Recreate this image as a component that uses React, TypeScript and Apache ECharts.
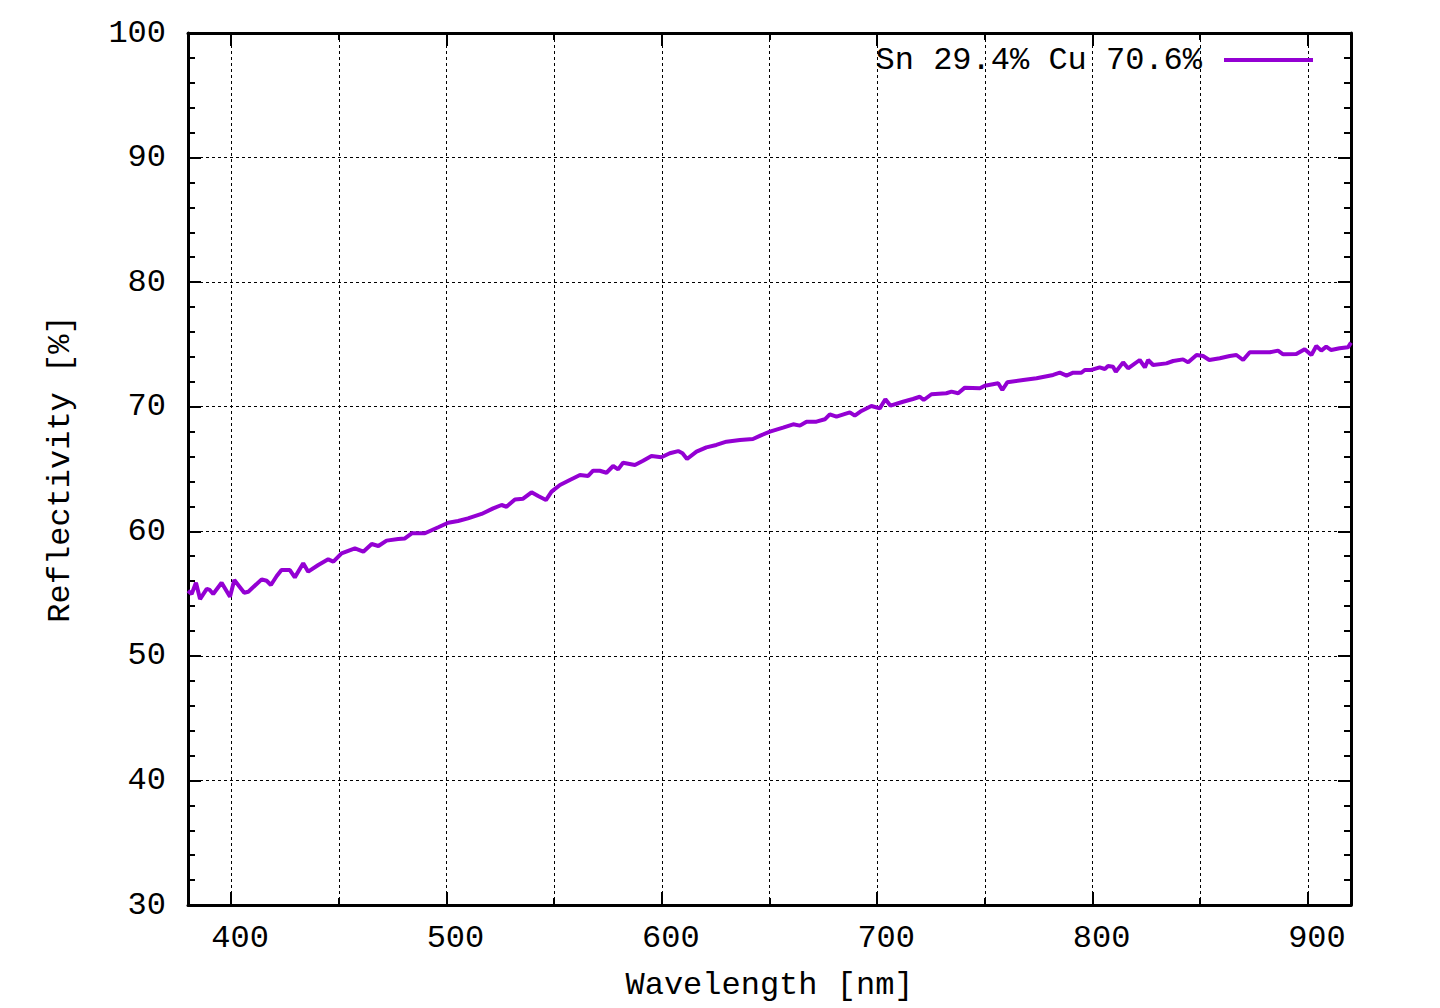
import React, { useEffect, useRef } from "react";
import * as echarts from "echarts";

const wavelength = [
  380.0, 381.7, 383.7, 385.6, 388.7, 390.1, 391.7, 395.6, 399.5, 401.5, 406.1, 408.0, 414.2, 416.5, 418.5,
  421.2, 423.4, 427.3, 429.6, 433.5, 435.8, 440.5, 445.1, 447.5, 451.3, 457.5, 461.4, 465.3, 468.4, 472.2,
  477.6, 480.7, 483.9, 490.0, 496.2, 500.8, 505.4, 510.0, 516.3, 521.7, 525.6, 527.9, 531.8, 535.6, 539.5,
  542.6, 546.2, 548.8, 552.7, 557.3, 562.0, 565.8, 568.1, 571.2, 574.3, 577.4, 579.7, 582.0, 587.5, 591.3,
  595.2, 599.8, 603.7, 607.6, 609.6, 611.7, 616.1, 620.7, 625.3, 630.0, 636.3, 642.3, 646.0, 650.2, 656.3,
  661.0, 664.1, 667.2, 671.8, 675.7, 678.0, 681.1, 687.3, 689.6, 692.7, 697.3, 701.2, 703.8, 706.2, 712.0,
  716.6, 719.8, 721.6, 725.2, 732.1, 734.5, 737.6, 740.7, 747.7, 750.0, 756.2, 758.1, 760.4, 767.8, 774.0,
  781.7, 784.8, 787.9, 791.0, 794.8, 796.4, 799.5, 803.3, 805.7, 807.2, 809.5, 810.8, 814.2, 816.5, 821.9,
  824.3, 825.8, 828.1, 834.3, 837.4, 842.0, 844.4, 848.3, 851.3, 854.2, 859.1, 863.7, 866.8, 869.9, 873.0,
  877.7, 882.3, 886.1, 888.5, 894.6, 898.5, 901.6, 903.9, 906.2, 908.5, 910.8, 914.7, 918.6, 920.0,
];

const reflectivity = [
  55.23, 54.97, 55.87, 54.56, 55.37, 55.29, 54.97, 55.87, 54.75, 56.09, 55.07, 55.15, 56.14, 56.03, 55.69,
  56.41, 56.89, 56.89, 56.3, 57.43, 56.76, 57.29, 57.75, 57.56, 58.23, 58.63, 58.36, 58.98, 58.82, 59.25,
  59.38, 59.43, 59.84, 59.84, 60.32, 60.69, 60.83, 61.04, 61.39, 61.84, 62.11, 61.97, 62.56, 62.62, 63.13,
  62.83, 62.51, 63.18, 63.72, 64.12, 64.52, 64.44, 64.86, 64.86, 64.7, 65.24, 64.97, 65.5, 65.32, 65.66,
  66.04, 65.94, 66.26, 66.44, 66.26, 65.8, 66.39, 66.74, 66.93, 67.19, 67.33, 67.41, 67.7, 68.0, 68.32,
  68.59, 68.48, 68.8, 68.8, 68.99, 69.39, 69.2, 69.55, 69.28, 69.66, 70.06, 69.87, 70.6, 70.08, 70.4,
  70.62, 70.8, 70.54, 71.0, 71.08, 71.21, 71.08, 71.53, 71.48, 71.69, 71.88, 71.34, 71.96, 72.14, 72.28,
  72.55, 72.73, 72.5, 72.73, 72.73, 72.95, 72.95, 73.16, 73.03, 73.27, 73.21, 72.81, 73.56, 73.08, 73.75,
  73.16, 73.75, 73.35, 73.48, 73.67, 73.8, 73.56, 74.15, 74.07, 73.75, 73.89, 74.07, 74.15, 73.75, 74.37,
  74.37, 74.37, 74.5, 74.21, 74.23, 74.61, 74.15, 74.87, 74.5, 74.82, 74.55, 74.69, 74.77, 75.14,
];

const seriesName = "Sn 29.4% Cu 70.6%";
const xMajorTicks = [400, 500, 600, 700, 800, 900];
const xMinorTicks = [400, 450, 500, 550, 600, 650, 700, 750, 800, 850, 900];
const xRange = [380, 920];
const yRange = [30, 100];
const yStep = 10;

const FONT = "Liberation Mono";
const FS = 32;

export default function App() {
  const ref = useRef<HTMLDivElement>(null);
  useEffect(() => {
    if (!ref.current) return;
    const chart = echarts.init(ref.current, null, { renderer: "svg" });
    const data = wavelength.map((w, i) => [w, reflectivity[i]]);
    const axisLine = { show: true, lineStyle: { color: "#000", width: 3 } };
    const grid = { color: "#000", width: 1, type: [3, 3] };
    chart.setOption({
      animation: false,
      backgroundColor: "#fff",
      textStyle: { fontFamily: FONT, color: "#000" },
      grid: { left: 188, right: 89, top: 33, bottom: 103, containLabel: false },
      legend: {
        show: true,
        right: 122,
        top: 39,
        align: "right",
        icon: "rect",
        itemWidth: 89,
        itemHeight: 4,
        textStyle: { fontFamily: FONT, fontSize: FS, color: "#000", padding: [0, 17, 0, 0] },
        data: [seriesName],
      },
      xAxis: [
        {
          type: "value",
          position: "bottom",
          min: xRange[0],
          max: xRange[1],
          name: "Wavelength [nm]",
          nameLocation: "middle",
          nameGap: 64,
          nameTextStyle: { fontFamily: FONT, fontSize: FS, color: "#000" },
          axisLine,
          axisTick: { show: true, inside: true, length: 13, lineStyle: { color: "#000", width: 2 }, customValues: xMajorTicks },
          axisLabel: {
            show: true,
            margin: 17,
            fontFamily: FONT,
            fontSize: FS,
            color: "#000",
            padding: [0, 0, 0, 18],
            customValues: xMajorTicks,
          },
          splitLine: { show: false },
        },
        {
          type: "value",
          position: "bottom",
          min: xRange[0],
          max: xRange[1],
          axisLine: { show: false },
          axisTick: { show: true, inside: true, length: 7, lineStyle: { color: "#000", width: 2 }, customValues: xMinorTicks },
          axisLabel: { show: false, customValues: xMinorTicks },
          splitLine: { show: true, lineStyle: grid },
        },
        {
          type: "value",
          position: "top",
          min: xRange[0],
          max: xRange[1],
          axisLine,
          axisTick: { show: true, inside: true, length: 13, lineStyle: { color: "#000", width: 2 }, customValues: xMajorTicks },
          axisLabel: { show: false, customValues: xMajorTicks },
          splitLine: { show: false },
        },
        {
          type: "value",
          position: "top",
          min: xRange[0],
          max: xRange[1],
          axisLine: { show: false },
          axisTick: { show: true, inside: true, length: 7, lineStyle: { color: "#000", width: 2 }, customValues: xMinorTicks },
          axisLabel: { show: false, customValues: xMinorTicks },
          splitLine: { show: false },
        },
      ],
      yAxis: [
        {
          type: "value",
          position: "left",
          min: yRange[0],
          max: yRange[1],
          interval: yStep,
          name: "Reflectivity [%]",
          nameLocation: "middle",
          nameGap: 112,
          nameTextStyle: { fontFamily: FONT, fontSize: FS, color: "#000" },
          axisLine,
          axisTick: { show: true, inside: true, length: 13, lineStyle: { color: "#000", width: 2 } },
          minorTick: { show: true, splitNumber: 5, length: 7, lineStyle: { color: "#000", width: 2 } },
          axisLabel: { show: true, margin: 22, fontFamily: FONT, fontSize: FS, color: "#000" },
          splitLine: { show: true, lineStyle: grid },
        },
        {
          type: "value",
          position: "right",
          min: yRange[0],
          max: yRange[1],
          interval: yStep,
          axisLine,
          axisTick: { show: true, inside: true, length: 13, lineStyle: { color: "#000", width: 2 } },
          minorTick: { show: true, splitNumber: 5, length: 7, lineStyle: { color: "#000", width: 2 } },
          axisLabel: { show: false },
          splitLine: { show: false },
        },
      ],
      series: [
        {
          name: seriesName,
          type: "line",
          xAxisIndex: 0,
          yAxisIndex: 0,
          data,
          showSymbol: false,
          symbol: "none",
          clip: true,
          color: "#9400D3",
          lineStyle: { color: "#9400D3", width: 4 },
          itemStyle: { color: "#9400D3" },
        },
      ],
    });
    return () => chart.dispose();
  }, []);
  return (
    <div
      ref={ref}
      style={{ position: "fixed", left: 0, top: 0, width: 1440, height: 1008, background: "#fff" }}
    />
  );
}
